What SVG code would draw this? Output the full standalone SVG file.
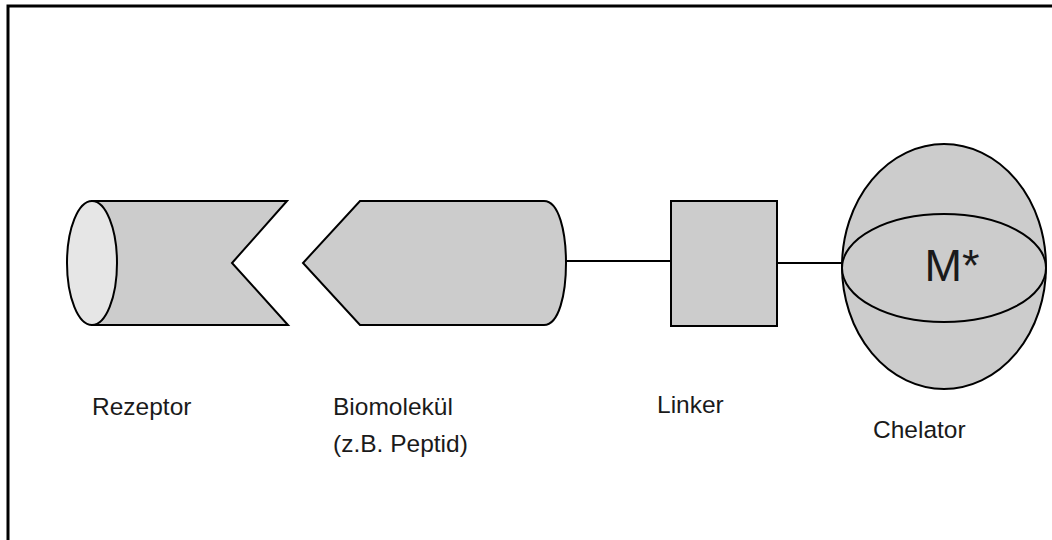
<svg xmlns="http://www.w3.org/2000/svg" width="1052" height="540" viewBox="0 0 1052 540">
  <style>
    .shape { fill: #cccccc; stroke: #000000; stroke-width: 2; stroke-linejoin: miter; }
    .cap { fill: #e6e6e6; stroke: #000000; stroke-width: 2; }
    .line { fill: none; stroke: #000000; stroke-width: 2; }
    .label { font-family: "Liberation Sans", Arial, sans-serif; font-size: 24.5px; fill: #1a1a1a; }
  </style>
  <rect width="1052" height="540" fill="#ffffff"/>
  <!-- outer frame (right and bottom edges run off the page) -->
  <rect x="8" y="6" width="1100" height="600" fill="none" stroke="#000000" stroke-width="3"/>

  <g id="connectors">
    <line class="line" x1="566" y1="261" x2="671" y2="261"/>
    <line class="line" x1="777" y1="263" x2="842" y2="263"/>
  </g>

  <g id="rezeptor">
    <path class="shape" d="M92,201 L287,201 L232,263 L288,325 L92,325 Z"/>
    <ellipse class="cap" cx="92" cy="263" rx="25" ry="62"/>
    <text class="label" x="92" y="415">Rezeptor</text>
  </g>

  <g id="biomolekuel">
    <path class="shape" d="M360,201 L544,201 C559,201 566,232 566,263 C566,294 559,325 544,325 L360,325 L303,263 Z"/>
    <text class="label" x="333" y="415">Biomolekül</text>
    <text class="label" x="333" y="452">(z.B. Peptid)</text>
  </g>

  <g id="linker">
    <rect class="shape" x="671" y="201" width="106" height="125"/>
    <text class="label" x="657" y="413">Linker</text>
  </g>

  <g id="chelator">
    <ellipse class="shape" cx="944" cy="266.5" rx="102" ry="122.5"/>
    <ellipse class="shape" cx="944" cy="268" rx="102" ry="54"/>
    <text x="952" y="281" text-anchor="middle" font-family="Liberation Sans, Arial, sans-serif" font-size="45" fill="#1a1a1a">M*</text>
    <text class="label" x="873" y="438">Chelator</text>
  </g>
</svg>
